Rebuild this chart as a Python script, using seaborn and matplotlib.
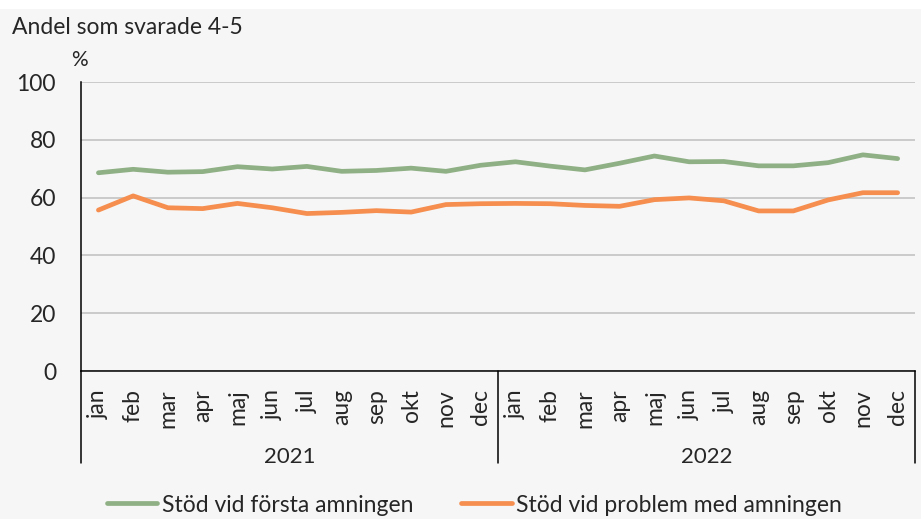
import numpy as np
import pandas as pd
import matplotlib.pyplot as plt
import seaborn as sns
from matplotlib.patches import Rectangle

# Data
months = ["jan", "feb", "mar", "apr", "maj", "jun", "jul", "aug", "sep", "okt", "nov", "dec"]
years = ["2021", "2022"]
forsta = [68.6, 69.8, 68.8, 69.0, 70.7, 69.9, 70.8, 69.1, 69.4, 70.2, 69.1, 71.2,
          72.4, 70.9, 69.6, 71.9, 74.4, 72.4, 72.5, 71.0, 71.0, 72.1, 74.8, 73.5]
problem = [55.7, 60.6, 56.5, 56.2, 58.0, 56.5, 54.5, 54.9, 55.5, 55.0, 57.6, 57.9,
           58.0, 57.9, 57.3, 57.0, 59.3, 59.9, 58.9, 55.4, 55.4, 59.2, 61.7, 61.7]
series_names = ["Stöd vid första amningen", "Stöd vid problem med amningen"]

n = len(forsta)
df = pd.DataFrame({
    "idx": list(range(n)) * 2,
    "value": forsta + problem,
    "serie": [series_names[0]] * n + [series_names[1]] * n,
})

bg = "#F6F6F6"
sns.set_style("white")
plt.rcParams["font.family"] = ["Lato", "DejaVu Sans"]

fig = plt.figure(figsize=(9.21, 5.19), dpi=100, facecolor=bg)
ax = fig.add_axes([0.088, 0.285, 0.9055, 0.557], facecolor=bg)

# white strip at very top (cut-off heading in the original)
fig.patches.append(Rectangle((0, 1 - 9 / 519), 1, 9 / 519, transform=fig.transFigure,
                             facecolor="white", edgecolor="none", zorder=0))

sns.lineplot(data=df, x="idx", y="value", hue="serie", ax=ax,
             palette=["#8FB085", "#F58E4E"], linewidth=3.4,
             solid_capstyle="round")

ax.set_xlim(-0.5, n - 0.5)
ax.set_ylim(0, 100)
ax.set_yticks(range(0, 101, 20))
ax.yaxis.grid(True, color="#BFBFBF", linewidth=1.1)
ax.set_axisbelow(True)
ax.set_xlabel("")
ax.set_ylabel("")

for s in ["top", "right"]:
    ax.spines[s].set_visible(False)
ax.spines["left"].set_color("black")
ax.spines["bottom"].set_color("black")
ax.spines["left"].set_linewidth(1.1)
ax.spines["bottom"].set_linewidth(1.1)

ax.tick_params(axis="y", length=0, pad=18, labelsize=16.5)
ax.set_xticks(range(n))
ax.set_xticklabels(months * 2, rotation=90, fontsize=16.5)
ax.tick_params(axis="x", which="major", length=0, pad=13)
ax.set_xticks(np.arange(-0.5, n, 1), minor=True)
ax.tick_params(axis="x", which="minor", length=5, width=1.1, color="black", direction="out")

# year separators and labels
trans = ax.get_xaxis_transform()
for xb in [-0.5, 11.5, 23.5]:
    ax.plot([xb, xb], [0, -0.318], color="black", linewidth=1.1,
            transform=trans, clip_on=False)
for i, yr in enumerate(years):
    ax.text(i * 12 + 5.5, -0.297, yr, transform=trans, ha="center", va="center", fontsize=16)

fig.text(12 / 921, 1 - 27 / 519, "Andel som svarade 4-5", fontsize=16.5, va="center", ha="left")
fig.text(79 / 921, 1 - 60 / 519, "%", fontsize=15, va="center", ha="center")

ax.legend(loc="center", bbox_to_anchor=(0.515, 1 - 505 / 519), bbox_transform=fig.transFigure,
          ncol=2, frameon=False, fontsize=16.5, handlelength=2.2, handletextpad=0.2,
          columnspacing=2.1)

plt.savefig("out.png", dpi=100, facecolor=bg)
